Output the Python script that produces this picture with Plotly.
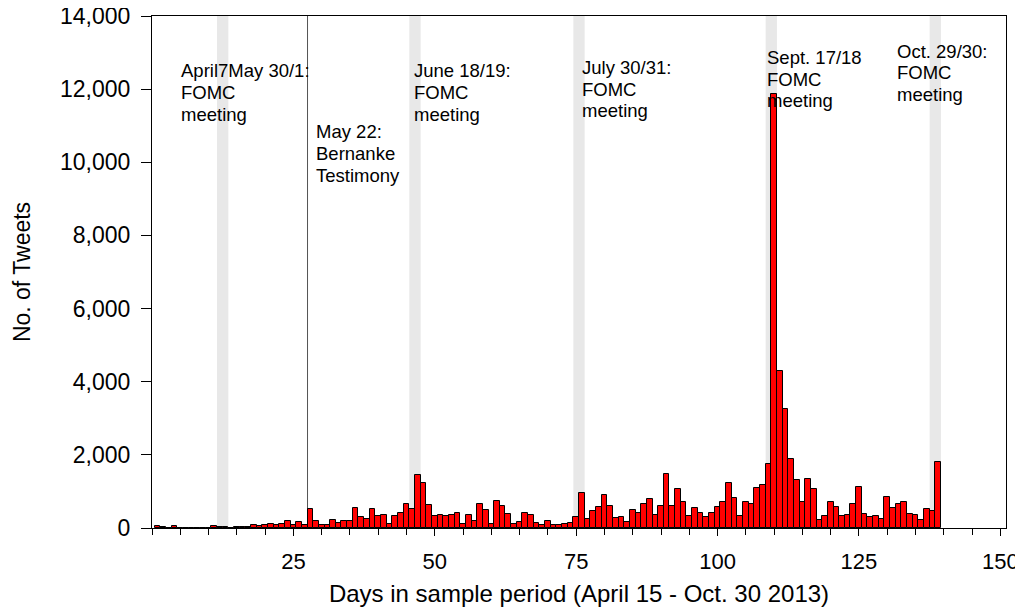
import plotly.graph_objects as go

# daily tweet counts, day 1 = April 15 2013
days = list(range(1, 140))
tweets = [
    55, 35, 10, 45, 10, 10, 10, 10, 10, 10,
    45, 25, 20, 10, 25, 25, 25, 70, 55, 70,
    100, 90, 120, 180, 70, 155, 90, 525, 200, 90,
    90, 230, 145, 200, 190, 560, 290, 240, 520, 320,
    360, 100, 320, 400, 645, 510, 1450, 1235, 620, 330,
    355, 320, 365, 410, 100, 365, 190, 645, 500, 120,
    725, 590, 390, 120, 170, 420, 365, 145, 90, 180,
    90, 90, 100, 145, 290, 970, 255, 470, 565, 900,
    590, 270, 290, 170, 480, 400, 665, 790, 365, 615,
    1480, 615, 1080, 710, 335, 555, 400, 290, 420, 580,
    720, 1235, 810, 335, 700, 670, 1100, 1170, 1745, 11870,
    4300, 3255, 1890, 1300, 720, 1345, 1055, 210, 320, 700,
    580, 320, 365, 655, 1125, 390, 290, 335, 235, 835,
    535, 670, 720, 390, 365, 210, 510, 465, 1815,
]

# two-day FOMC meetings (first day of each window) and the testimony day
fomc_start = [11.5, 45.5, 74.5, 108.5, 137.5]
testimony_day = 27.5

event_lines = [
    ["April7May 30/1:", "FOMC", "meeting"],
    ["May 22:", "Bernanke", "Testimony"],
    ["June 18/19:", "FOMC", "meeting"],
    ["July 30/31:", "FOMC", "meeting"],
    ["Sept. 17/18", "FOMC", "meeting"],
    ["Oct. 29/30:", "FOMC", "meeting"],
]
label_x = [4.74, 28.57, 45.96, 75.75, 108.35, 131.35]
label_top = [12497, 10829, 12497, 12585, 12858, 13041]

FONT = "Liberation Sans, Arial, sans-serif"

fig = go.Figure()
fig.add_trace(go.Bar(
    x=days, y=tweets, width=1,
    marker=dict(color="#ff0000", line=dict(color="black", width=1)),
))

for s in fomc_start:
    fig.add_shape(type="rect", xref="x", yref="paper", x0=s, x1=s + 2, y0=0, y1=1,
                  fillcolor="#e8e8e8", line_width=0, layer="below")
fig.add_shape(type="line", xref="x", yref="paper", x0=testimony_day, x1=testimony_day,
              y0=0, y1=1, line=dict(color="#555555", width=1), layer="below")

step = 21.6 / 0.03657  # line spacing in data units
for lines, lx, ly in zip(event_lines, label_x, label_top):
    for k, t in enumerate(lines):
        fig.add_annotation(x=lx, y=ly - k * step, text=t, showarrow=False,
                           xanchor="left", yanchor="middle",
                           font=dict(family=FONT, size=18.5, color="black"))

# page body has an 8px margin, so the figure is a bit smaller than the window
fig.update_layout(
    width=1015, height=606,
    margin=dict(l=144, r=17, t=8, b=86),
    paper_bgcolor="white", plot_bgcolor="white",
    showlegend=False, bargap=0,
    font=dict(family=FONT, color="black"),
)
fig.update_xaxes(
    range=[0, 151], tickvals=[25, 50, 75, 100, 125, 150],
    ticks="outside", ticklen=7, tickwidth=1, tickcolor="black",
    minor=dict(dtick=5, tick0=0, ticks="outside", ticklen=6, tickcolor="black"),
    showline=True, linecolor="black", linewidth=1, mirror=True,
    showgrid=False, zeroline=False, automargin=False,
    tickfont=dict(size=22), ticklabelstandoff=7, ticklabeloverflow="allow",
    title=dict(text="Days in sample period (April 15 - Oct. 30 2013)", font=dict(size=24), standoff=11),
)
fig.update_yaxes(
    range=[0, 14000], dtick=2000, tickformat=",",
    ticks="outside", ticklen=10, tickwidth=1, tickcolor="black",
    showline=True, linecolor="black", linewidth=1, mirror=True,
    showgrid=False, zeroline=False, automargin=False,
    tickfont=dict(size=23), ticklabelstandoff=6, ticklabeloverflow="allow",
    title=dict(text="No. of Tweets", font=dict(size=23), standoff=22),
)

fig.write_html("out.html")
